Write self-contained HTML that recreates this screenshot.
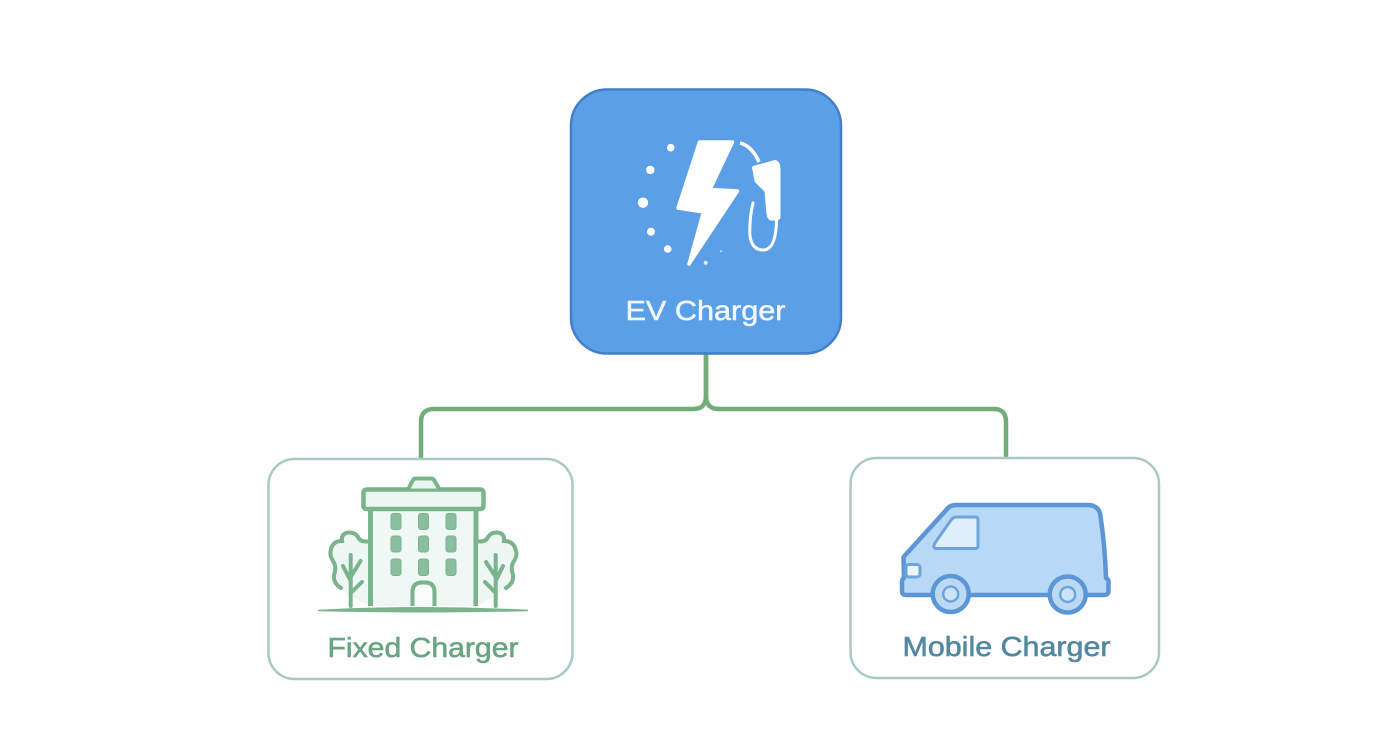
<!DOCTYPE html>
<html>
<head>
<meta charset="utf-8">
<style>
html,body{margin:0;padding:0;width:1392px;height:752px;background:#fefefe;overflow:hidden}
svg{display:block}
text{font-family:"Liberation Sans",sans-serif}
</style>
</head>
<body>
<svg width="1392" height="752" viewBox="0 0 1392 752" xmlns="http://www.w3.org/2000/svg">
<rect width="1392" height="752" fill="#fefefe"/>

<!-- connectors -->
<g fill="none" stroke="#72ac78" stroke-width="4.500">
<path d="M706 354V396Q706 409 693 409H434Q421 409 421 422V459"/>
<path d="M706 354V396Q706 409 719 409H994Q1006 409 1006 422V458"/>
</g>

<!-- main node -->
<rect x="571" y="89.500" width="270" height="264" rx="36" fill="#5b9fe6" stroke="#437fcb" stroke-width="2.500"/>
<path d="M699.500 142H732.500L710 189.500L737.500 191L689 264L703.500 212L678 208Z" fill="#fff" stroke="#fff" stroke-width="3.500" stroke-linejoin="round"/>
<path d="M740 143Q752 146 759 162" fill="none" stroke="#fff" stroke-width="3.500"/>
<path d="M753.500 167.500L775 161.500Q779 162.500 779 170V217Q779 219 775 219H771Q769 219 768 214L766 191L756 181Z" fill="#fff" stroke="#fff" stroke-width="3" stroke-linejoin="round"/>
<path d="M753 203Q749 220 750 236Q752 250 763 250Q776 250 776.500 220" fill="none" stroke="#fff" stroke-width="3" stroke-linecap="round"/>
<g fill="#fff">
<circle cx="670.700" cy="147.700" r="3.800"/>
<circle cx="650.300" cy="170" r="4.200"/>
<circle cx="643" cy="202.700" r="5.200"/>
<circle cx="651" cy="231.700" r="4"/>
<circle cx="667.700" cy="249" r="3.800"/>
<circle cx="705.700" cy="262.700" r="2" opacity=".8"/>
<circle cx="721" cy="251.300" r="1.200" opacity=".6"/>
</g>
<text x="705.500" y="320" font-size="28" fill="#f2f7fd" stroke="#f2f7fd" stroke-width=".5" text-anchor="middle" textLength="160" lengthAdjust="spacingAndGlyphs">EV Charger</text>

<!-- fixed node -->
<rect x="268.500" y="459" width="304" height="220" rx="26" fill="#fefefe" stroke="#a9c8ca" stroke-width="2.500"/>
<rect x="372" y="508" width="103" height="98" fill="#f0f8f5"/>
<path d="M370.500 509V606M476 509V606" stroke="#79b48c" stroke-width="5" fill="none"/>
<rect x="363.500" y="489.500" width="120" height="19.500" rx="3" fill="#ecf7f4" stroke="#79b48c" stroke-width="4.500"/>
<path d="M408.500 488.500L413 480Q414 478.500 416 478.500H431Q433 478.500 434 480L439 488.500" fill="#ecf7f4" stroke="#79b48c" stroke-width="4"/>
<g fill="#8abf9e" stroke="#79b48c" stroke-width="1">
<rect x="391" y="513.500" width="10" height="16" rx="2.500"/>
<rect x="418.500" y="513.500" width="10" height="16" rx="2.500"/>
<rect x="446" y="513.500" width="10" height="16" rx="2.500"/>
<rect x="391" y="536" width="10" height="16" rx="2.500"/>
<rect x="418.500" y="536" width="10" height="16" rx="2.500"/>
<rect x="446" y="536" width="10" height="16" rx="2.500"/>
<rect x="391" y="559" width="10" height="16.500" rx="2.500"/>
<rect x="418.500" y="559" width="10" height="16.500" rx="2.500"/>
<rect x="446" y="559" width="10" height="16.500" rx="2.500"/>
</g>
<path d="M412.500 606V592Q412.500 582.500 422 582.500H425Q434.500 582.500 434.500 592V606" fill="#f8fcfa" stroke="#79b48c" stroke-width="4"/>
<path d="M368 541.500Q360 542 358 537Q354 531 346 533Q341 535 342 541Q333 541 331 549Q329 555 333 561Q337 567 334 575Q333 583 341 589L368 606Z" fill="#eef7f3"/>
<path d="M368 541.500Q360 542 358 537Q354 531 346 533Q341 535 342 541Q333 541 331 549Q329 555 333 561Q337 567 334 575Q333 583 341 588" fill="none" stroke="#79b48c" stroke-width="4" stroke-linecap="round"/>
<path d="M350.700 555V606M343 566L350.700 581M360.500 561L350.700 577M362 582L350.700 593" fill="none" stroke="#79b48c" stroke-width="4" stroke-linecap="round"/>
<path d="M478 541.500Q486 542 488 537Q492 531 500 533Q505 535 504 541Q513 541 515.500 549Q518 555 514 561Q510 567 513 575Q514 583 506 589L478 606Z" fill="#eef7f3"/>
<path d="M478 541.500Q486 542 488 537Q492 531 500 533Q505 535 504 541Q513 541 515.500 549Q518 555 514 561Q510 567 513 575Q514 583 506 588" fill="none" stroke="#79b48c" stroke-width="4" stroke-linecap="round"/>
<path d="M495.700 555V606M486 562L495.700 577M503 566L495.700 581M485 582L495.700 593" fill="none" stroke="#79b48c" stroke-width="4" stroke-linecap="round"/>
<path d="M318 610.500Q423 605 528 610.500Q423 613 318 610.500Z" fill="#79b48c" stroke="#79b48c" stroke-width="1.500"/>
<text x="423" y="657" font-size="28" fill="#6aa583" stroke="#6aa583" stroke-width=".6" text-anchor="middle" textLength="191" lengthAdjust="spacingAndGlyphs">Fixed Charger</text>

<!-- mobile node -->
<rect x="850.500" y="458" width="308.500" height="220" rx="26" fill="#fefefe" stroke="#a9c8ca" stroke-width="2.500"/>
<path d="M903.500 557L948 508Q951 505 956 505H1088Q1097 505 1100 513Q1105 545 1106 578Q1108.500 579 1108.500 582V591Q1108.500 595 1104 595H906Q902 595 902 591V582Q902 579 904 578Z" fill="#b7d8f7" stroke="#5c96d6" stroke-width="4.500" stroke-linejoin="round"/>
<path d="M935 543L951 520Q953 517 957 517H975Q978 517 978 520V546Q978 548.500 975 548.500H937Q932 548.500 935 543Z" fill="#dff0fc" stroke="#6ea4dc" stroke-width="3"/>
<rect x="906" y="564.500" width="14" height="12.500" rx="3" fill="#eaf5fd" stroke="#6ea4dc" stroke-width="3"/>
<g stroke="#5c96d6" stroke-width="4.500">
<circle cx="950.700" cy="594" r="18" fill="#bcd9f4"/>
<circle cx="1067.700" cy="594.500" r="18" fill="#bcd9f4"/>
</g>
<g stroke="#6ea4dc" stroke-width="2.500" fill="#cbe3f6">
<circle cx="950.700" cy="594" r="7.500"/>
<circle cx="1067.700" cy="594.500" r="7.500"/>
</g>
<text x="1006.500" y="656" font-size="28" fill="#5288a0" stroke="#5288a0" stroke-width=".6" text-anchor="middle" textLength="208" lengthAdjust="spacingAndGlyphs">Mobile Charger</text>
</svg>
</body>
</html>
